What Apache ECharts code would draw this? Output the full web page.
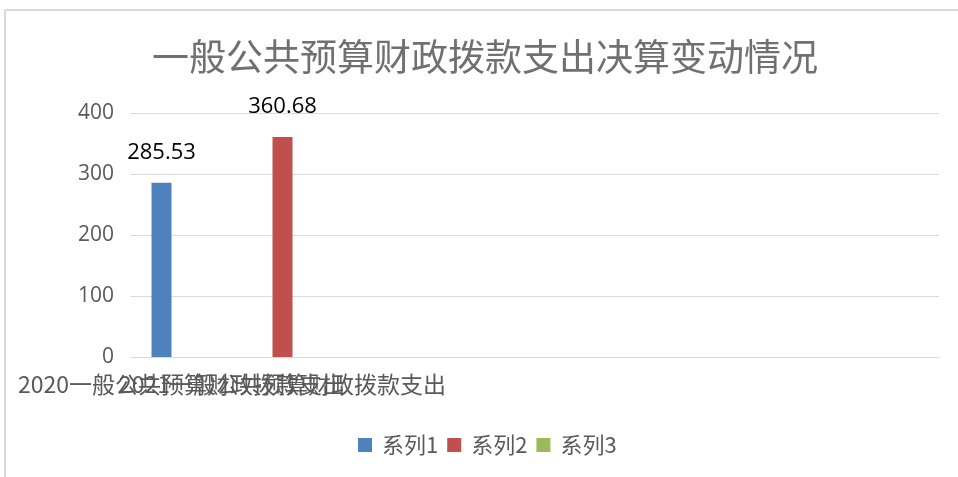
<!DOCTYPE html>
<html>
<head>
<meta charset="utf-8">
<script src="https://cdn.jsdelivr.net/npm/echarts@6/dist/echarts.min.js"></script>
<style>
html,body{margin:0;padding:0;background:#fff;}
#c{width:958px;height:477px;}
</style>
</head>
<body>
<div id="c"></div>
<script>
var titleText = '一般公共预算财政拨款支出决算变动情况';
var categories = ['2020一般公共预算财政拨款支出', '2021一般公共预算财政拨款支出', '', '', '', '', '', ''];
var seriesNames = ['系列1', '系列2', '系列3'];
var series1 = [285.53, null, null, null, null, null, null, null];
var series2 = [null, 360.68, null, null, null, null, null, null];
var series3 = [null, null, null, null, null, null, null, null];
var yTicks = [0, 100, 200, 300, 400];

var colors = ['#4f81bd', '#c0504d', '#9bbb59'];
var chart = echarts.init(document.getElementById('c'));

function barSeries(name, data, color) {
  return {
    name: name,
    type: 'bar',
    data: data,
    barWidth: 20,
    barGap: '0%',
    itemStyle: {color: color},
    label: {
      show: true,
      position: 'top',
      distance: 19,
      fontFamily: 'Open Sans',
      fontSize: 22,
      color: '#000',
      formatter: function (p) { return p.value == null ? '' : p.value.toFixed(2); }
    }
  };
}

chart.setOption({
  animation: false,
  color: colors,
  title: {
    text: titleText,
    left: 147,
    top: 33,
    textStyle: {
      fontFamily: 'Noto Sans CJK SC',
      fontSize: 37,
      fontWeight: 'normal',
      color: '#707070'
    }
  },
  graphic: [
    {type: 'line', shape: {x1: 5, y1: 10, x2: 958, y2: 10}, style: {stroke: '#d9d9d9', lineWidth: 2}},
    {type: 'line', shape: {x1: 5, y1: 10, x2: 5, y2: 477}, style: {stroke: '#d9d9d9', lineWidth: 2}}
  ],
  legend: {
    data: seriesNames,
    left: 353,
    top: 429,
    itemWidth: 14,
    itemHeight: 14,
    itemGap: 9,
    icon: 'rect',
    textStyle: {
      fontFamily: 'Noto Sans CJK SC',
      fontSize: 22,
      color: '#595959',
      padding: [0, 0, 0, 5]
    }
  },
  grid: {left: 131, right: 19, top: 113, bottom: 120, containLabel: false},
  xAxis: {
    type: 'category',
    data: categories,
    axisLine: {show: true, lineStyle: {color: '#d9d9d9', width: 1}},
    axisTick: {show: false},
    axisLabel: {
      interval: 0,
      margin: 16,
      fontFamily: 'Noto Sans CJK SC',
      fontSize: 23,
      color: '#595959'
    }
  },
  yAxis: {
    type: 'value',
    min: yTicks[0],
    max: yTicks[yTicks.length - 1],
    interval: 100,
    axisLine: {show: false},
    axisTick: {show: false},
    splitLine: {lineStyle: {color: '#d9d9d9', width: 1}},
    axisLabel: {
      margin: 17,
      fontFamily: 'Open Sans',
      fontSize: 21,
      color: '#595959'
    }
  },
  series: [
    barSeries(seriesNames[0], series1, colors[0]),
    barSeries(seriesNames[1], series2, colors[1]),
    barSeries(seriesNames[2], series3, colors[2])
  ]
});
</script>
</body>
</html>
